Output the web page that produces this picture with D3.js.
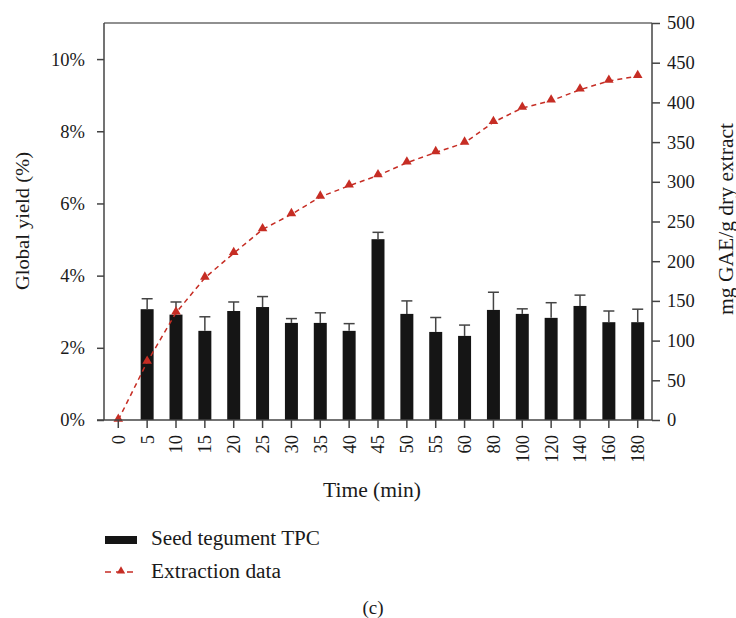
<!DOCTYPE html>
<html>
<head>
<meta charset="utf-8">
<script src="https://cdn.jsdelivr.net/npm/d3@7"></script>
<style>
  body { margin: 0; background: #fff; }
  text { font-family: "Liberation Serif", "DejaVu Serif", serif; fill: #1a1a1a; }
</style>
</head>
<body>
<svg width="736" height="618"></svg>
<script>
// data
var times = ["0","5","10","15","20","25","30","35","40","45","50","55","60","80","100","120","140","160","180"];
var yieldVals = [0, 3.07, 2.92, 2.47, 3.02, 3.13, 2.69, 2.69, 2.47, 5.01, 2.94, 2.44, 2.33, 3.05, 2.94, 2.83, 3.16, 2.71, 2.71];
var yieldErr  = [0, 0.29, 0.35, 0.39, 0.25, 0.29, 0.12, 0.28, 0.20, 0.19, 0.36, 0.40, 0.30, 0.49, 0.14, 0.42, 0.30, 0.31, 0.36];
var tpcVals = [0, 73, 135, 179, 210, 240, 259, 281, 295, 308, 324, 337, 349, 375, 393, 402, 416, 427, 433];
var leftTicks = [0, 2, 4, 6, 8, 10];
var rightTicks = [0, 50, 100, 150, 200, 250, 300, 350, 400, 450, 500];

function main(){
    var svg = d3.select("svg");
    var left = 104, right = 652, top = 23, bottom = 420;

    var xScale = d3.scaleBand().domain(times).range([left, right]).paddingInner(0.55).paddingOuter(0.27);
    var yLeft = d3.scaleLinear().domain([0, 11]).range([bottom, top]);
    var yRight = d3.scaleLinear().domain([0, 500]).range([bottom, top]);
    var cx = function(t){ return xScale(t) + xScale.bandwidth() / 2; };

    var red = "#c62d24";

    // top border
    svg.append("line").attr("x1", left).attr("x2", right).attr("y1", top).attr("y2", top)
        .attr("stroke", "#222").attr("stroke-width", 1.2);

    // bars
    svg.selectAll(".bar").data(times).enter().append("rect")
        .attr("class", "bar")
        .attr("x", function(d){ return xScale(d); })
        .attr("y", function(d, i){ return yLeft(yieldVals[i]); })
        .attr("width", xScale.bandwidth())
        .attr("height", function(d, i){ return bottom - yLeft(yieldVals[i]); })
        .attr("fill", "#151515");

    // error bars
    var eb = svg.selectAll(".err").data(times.filter(function(d, i){ return yieldVals[i] > 0; }))
        .enter().append("g").attr("class", "err");
    eb.append("line")
        .attr("x1", cx).attr("x2", cx)
        .attr("y1", function(d){ var i = times.indexOf(d); return yLeft(yieldVals[i]); })
        .attr("y2", function(d){ var i = times.indexOf(d); return yLeft(yieldVals[i] + yieldErr[i]); })
        .attr("stroke", "#444").attr("stroke-width", 1.5);
    eb.append("line")
        .attr("x1", function(d){ return cx(d) - 5.5; }).attr("x2", function(d){ return cx(d) + 5.5; })
        .attr("y1", function(d){ var i = times.indexOf(d); return yLeft(yieldVals[i] + yieldErr[i]); })
        .attr("y2", function(d){ var i = times.indexOf(d); return yLeft(yieldVals[i] + yieldErr[i]); })
        .attr("stroke", "#444").attr("stroke-width", 1.5);

    // extraction line
    var line = d3.line().x(function(d, i){ return cx(times[i]); }).y(function(d){ return yRight(d); });
    svg.append("path").datum(tpcVals).attr("d", line)
        .attr("fill", "none").attr("stroke", red).attr("stroke-width", 1.5)
        .attr("stroke-dasharray", "5,4");
    var tri = d3.symbol().type(d3.symbolTriangle).size(40);
    svg.selectAll(".pt").data(tpcVals).enter().append("path")
        .attr("class", "pt").attr("d", tri)
        .attr("transform", function(d, i){ return "translate(" + cx(times[i]) + "," + (yRight(d) - 1) + ")"; })
        .attr("fill", red);

    // axes
    var gL = svg.append("g").attr("transform", "translate(" + left + ",0)")
        .call(d3.axisLeft(yLeft).tickValues(leftTicks).tickSize(7).tickPadding(12).tickFormat(function(d){ return d + "%"; }));
    var gR = svg.append("g").attr("transform", "translate(" + right + ",0)")
        .call(d3.axisRight(yRight).tickValues(rightTicks).tickSize(8).tickPadding(7));
    var gX = svg.append("g").attr("transform", "translate(0," + bottom + ")")
        .call(d3.axisBottom(xScale).tickSize(8).tickSizeOuter(0));
    gX.selectAll("text").attr("transform", "rotate(-90)")
        .attr("x", -15).attr("y", 0).attr("dy", "0.35em").style("text-anchor", "end");

    [gL, gR, gX].forEach(function(g){
        g.select(".domain").attr("stroke", "#444").attr("stroke-width", 1.5);
        g.selectAll(".tick line").attr("stroke", "#444").attr("stroke-width", 1.5);
        g.selectAll("text").attr("font-size", 18.5).attr("font-family", "Liberation Serif").attr("fill", "#1a1a1a");
    });
    gR.select(".domain").attr("d", "M0," + top + "V" + bottom);
    gL.select(".domain").attr("d", "M0," + top + "V" + bottom);
    gX.select(".domain").attr("d", "M" + (left - 7) + ",0H" + (right));

    // titles
    svg.append("text").attr("transform", "translate(29,221) rotate(-90)")
        .attr("text-anchor", "middle").attr("font-size", 19.5)
        .attr("textLength", 138).attr("lengthAdjust", "spacingAndGlyphs").text("Global yield (%)");
    svg.append("text").attr("transform", "translate(733,219) rotate(-90)")
        .attr("text-anchor", "middle").attr("font-size", 20)
        .attr("textLength", 192).attr("lengthAdjust", "spacingAndGlyphs").text("mg GAE/g dry extract");
    svg.append("text").attr("x", 372).attr("y", 497)
        .attr("text-anchor", "middle").attr("font-size", 20)
        .attr("textLength", 98).attr("lengthAdjust", "spacingAndGlyphs").text("Time (min)");

    // legend
    svg.append("rect").attr("x", 105).attr("y", 536).attr("width", 32).attr("height", 8).attr("fill", "#151515");
    svg.append("text").attr("x", 151).attr("y", 545).attr("font-size", 20)
        .attr("textLength", 169).attr("lengthAdjust", "spacingAndGlyphs").text("Seed tegument TPC");
    svg.append("line").attr("x1", 105).attr("x2", 138).attr("y1", 572).attr("y2", 572)
        .attr("stroke", red).attr("stroke-width", 1.5).attr("stroke-dasharray", "6,5");
    svg.append("path").attr("d", d3.symbol().type(d3.symbolTriangle).size(30))
        .attr("transform", "translate(121,571)").attr("fill", red);
    svg.append("text").attr("x", 151).attr("y", 578).attr("font-size", 20)
        .attr("textLength", 130).attr("lengthAdjust", "spacingAndGlyphs").text("Extraction data");

    svg.append("text").attr("x", 373).attr("y", 614).attr("text-anchor", "middle").attr("font-size", 19).text("(c)");
}
main();
</script>
</body>
</html>
